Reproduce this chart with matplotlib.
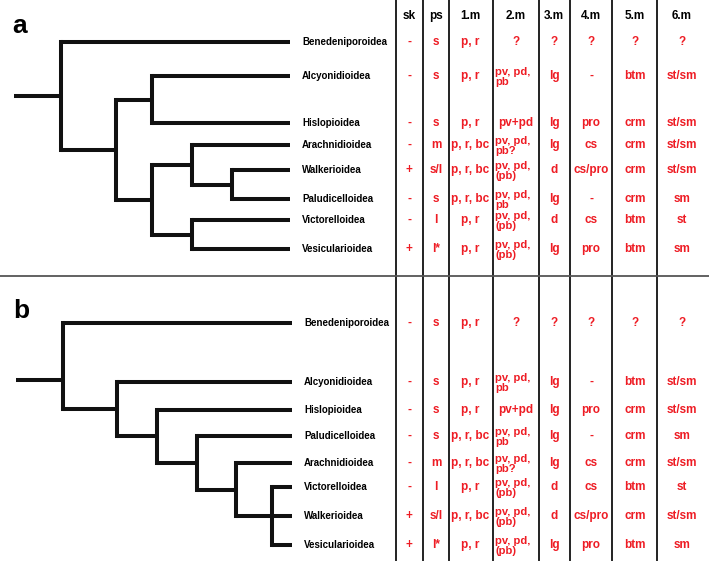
import matplotlib.pyplot as plt

# table contents (same taxa in both panels, only the order changes)
headers = ['sk', 'ps', '1.m', '2.m', '3.m', '4.m', '5.m', '6.m']
traits = {
    'Benedeniporoidea': ['-', 's', 'p, r', '?', '?', '?', '?', '?'],
    'Alcyonidioidea':   ['-', 's', 'p, r', 'pv, pd,\npb', 'lg', '-', 'btm', 'st/sm'],
    'Hislopioidea':     ['-', 's', 'p, r', 'pv+pd', 'lg', 'pro', 'crm', 'st/sm'],
    'Arachnidioidea':   ['-', 'm', 'p, r, bc', 'pv, pd,\npb?', 'lg', 'cs', 'crm', 'st/sm'],
    'Walkerioidea':     ['+', 's/l', 'p, r, bc', 'pv, pd,\n(pb)', 'd', 'cs/pro', 'crm', 'st/sm'],
    'Paludicelloidea':  ['-', 's', 'p, r, bc', 'pv, pd,\npb', 'lg', '-', 'crm', 'sm'],
    'Victorelloidea':   ['-', 'l', 'p, r', 'pv, pd,\n(pb)', 'd', 'cs', 'btm', 'st'],
    'Vesicularioidea':  ['+', 'l*', 'p, r', 'pv, pd,\n(pb)', 'lg', 'pro', 'btm', 'sm'],
}

order_a = ['Benedeniporoidea', 'Alcyonidioidea', 'Hislopioidea', 'Arachnidioidea',
           'Walkerioidea', 'Paludicelloidea', 'Victorelloidea', 'Vesicularioidea']
order_b = ['Benedeniporoidea', 'Alcyonidioidea', 'Hislopioidea', 'Paludicelloidea',
           'Arachnidioidea', 'Victorelloidea', 'Walkerioidea', 'Vesicularioidea']

# trees: (node depth, [children]); leaves are taxon names
tree_a = (61, ['Benedeniporoidea',
               (116, [(152, ['Alcyonidioidea', 'Hislopioidea']),
                      (152, [(192, ['Arachnidioidea',
                                    (232, ['Walkerioidea', 'Paludicelloidea'])]),
                             (192, ['Victorelloidea', 'Vesicularioidea'])])])])
tree_b = (63, ['Benedeniporoidea',
               (117, ['Alcyonidioidea',
                      (157, ['Hislopioidea',
                             (197, ['Paludicelloidea',
                                    (236, ['Arachnidioidea',
                                           (272, ['Victorelloidea', 'Walkerioidea',
                                                  'Vesicularioidea'])])])])])])

# layout (pixel space)
rows_a = [42, 76, 123, 145, 170, 199, 220, 249]
rows_b = [323, 382, 410, 436, 463, 487, 516, 545]
col_x = [409, 436, 470, 516, 554, 591, 635, 682]
col_lines = [396, 423, 449, 493, 539, 570, 612, 657]
red = '#ee1c24'

fig = plt.figure(figsize=(7.09, 5.62), dpi=100)
ax = fig.add_axes([0, 0, 1, 1])
ax.set_xlim(0, 709)
ax.set_ylim(562, 0)
ax.axis('off')
plt.rcParams['font.family'] = ['Liberation Sans', 'DejaVu Sans']

lw = 2.9


def draw(node, ypos, tip_x):
    if isinstance(node, str):
        return tip_x, ypos[node]
    x, kids = node
    ys = []
    for k in kids:
        kx, ky = draw(k, ypos, tip_x)
        ax.plot([x, kx], [ky, ky], color='#111', lw=lw, solid_capstyle='butt')
        ys.append(ky)
    ax.plot([x, x], [min(ys), max(ys)], color='#111', lw=lw, solid_capstyle='projecting')
    return x, sum(ys) / len(ys)


def panel(tree, order, rows, tip_x, stub_x, stub_y=None):
    ypos = dict(zip(order, rows))
    rx, ry = draw(tree, ypos, tip_x)
    if stub_y is None:
        stub_y = ry
    ax.plot([stub_x, rx], [stub_y, stub_y], color='#111', lw=lw, solid_capstyle='butt')
    for name, y in zip(order, rows):
        ax.text(tip_x + 12, y, name, fontsize=7, fontweight='bold', va='center', ha='left')
        for j, val in enumerate(traits[name]):
            if '\n' in val:
                ax.text(col_lines[3] + 2, y + 1, val, fontsize=8.1, fontweight='bold',
                        color=red, va='center', ha='left', linespacing=0.95)
            else:
                ax.text(col_x[j], y, val, fontsize=8.5, fontweight='bold',
                        color=red, va='center', ha='center')


panel(tree_a, order_a, rows_a, 290, 14)
panel(tree_b, order_b, rows_b, 292, 16, stub_y=380)

for j, h in enumerate(headers):
    ax.text(col_x[j], 16, h, fontsize=8.5, fontweight='bold', va='center', ha='center')

for x in col_lines:
    ax.plot([x, x], [0, 560], color='#222', lw=1.4)
ax.plot([0, 709], [276, 276], color='#555', lw=1.3)

ax.text(12, 26, 'a', fontsize=19, fontweight='bold', va='center', ha='left')
ax.text(13, 311, 'b', fontsize=19, fontweight='bold', va='center', ha='left')

fig.savefig('out.png', dpi=100)
